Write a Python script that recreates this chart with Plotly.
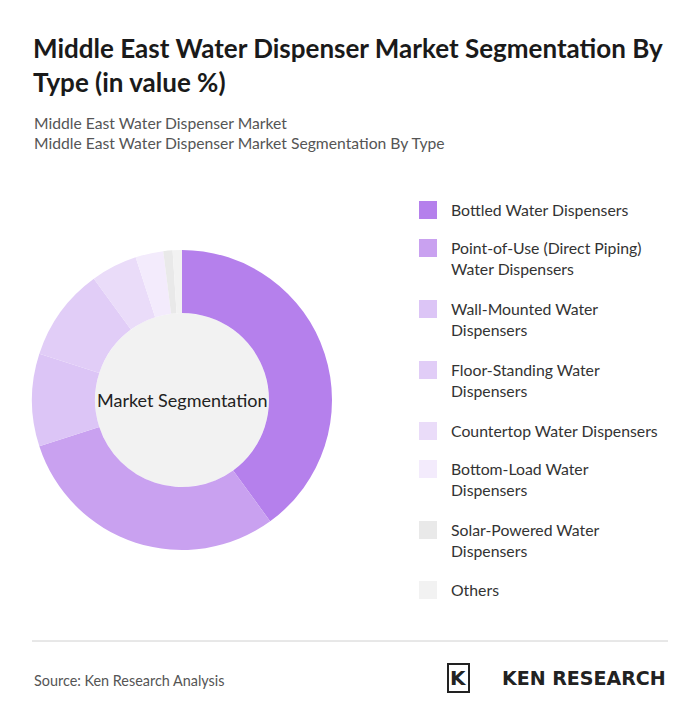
import plotly.graph_objects as go

labels = ["Bottled Water Dispensers", "Point-of-Use (Direct Piping) Water Dispensers",
          "Wall-Mounted Water Dispensers", "Floor-Standing Water Dispensers",
          "Countertop Water Dispensers", "Bottom-Load Water Dispensers",
          "Solar-Powered Water Dispensers", "Others"]
legend_text = ["Bottled Water Dispensers", "Point-of-Use (Direct Piping)<br>Water Dispensers",
               "Wall-Mounted Water<br>Dispensers", "Floor-Standing Water<br>Dispensers",
               "Countertop Water Dispensers", "Bottom-Load Water<br>Dispensers",
               "Solar-Powered Water<br>Dispensers", "Others"]
values = [40, 30, 10, 10, 5, 3, 1, 1]
colors = ["#b580ec", "#c9a1f0", "#dcc5f6", "#e1cdf7", "#eadcf9", "#f3ebfc", "#e9e9e9", "#f2f2f2"]

W, H = 692, 719
OFF = 8
cx, cy, r = 182, 400, 150

def px(x): return (x - OFF) / W
def py(y): return 1 - (y - OFF) / H

fig = go.Figure(go.Pie(
    labels=labels, values=values, sort=False, direction="clockwise", rotation=0,
    hole=0.58, marker=dict(colors=colors, line=dict(width=0)),
    textinfo="none", hoverinfo="label+percent", showlegend=False,
    domain=dict(x=[px(cx - r), px(cx + r)], y=[py(cy + r), py(cy - r)])))

shapes = [dict(type="circle", xref="paper", yref="paper", layer="below",
               x0=px(cx - 87), x1=px(cx + 87), y0=py(cy + 87), y1=py(cy - 87),
               fillcolor="#f2f2f2", line=dict(width=0)),
          dict(type="line", xref="paper", yref="paper", x0=px(32), x1=px(668),
               y0=py(641), y1=py(641), line=dict(color="#d0d0d0", width=1))]
ann = [
    dict(text="<b>Middle East Water Dispenser Market Segmentation By<br>Type (in value %)</b>",
         x=px(31), y=py(30), xanchor="left", yanchor="top", align="left",
         font=dict(size=26, color="#1a1a1a", family="Lato")),
    dict(text="Middle East Water Dispenser Market<br>Middle East Water Dispenser Market Segmentation By Type",
         x=px(32), y=py(112), xanchor="left", yanchor="top", align="left",
         font=dict(size=15.7, color="#555", family="Lato")),
    dict(text="Market Segmentation", x=px(cx), y=py(cy), xanchor="center", yanchor="middle",
         showarrow=False, font=dict(size=18, color="#222", family="Lato")),
    dict(text="Source: Ken Research Analysis", x=px(32), y=py(680), xanchor="left", yanchor="middle",
         font=dict(size=14.4, color="#555", family="Lato")),
    dict(text="<b>K</b>", x=px(458), y=py(678), xanchor="center", yanchor="middle",
         font=dict(size=20, color="#222", family="DejaVu Sans"),
         bordercolor="#222", borderwidth=2, borderpad=1),
    dict(text="<b>KEN RESEARCH</b>", x=px(668), y=py(678), xanchor="right", yanchor="middle",
         font=dict(size=19, color="#222", family="DejaVu Sans")),
]
leg_y = [210, 248, 309, 370, 431, 469, 530, 590]
for t, yy, c in zip(legend_text, leg_y, colors):
    shapes.append(dict(type="rect", xref="paper", yref="paper", x0=px(419), x1=px(437),
                       y0=py(yy + 9), y1=py(yy - 9), fillcolor=c, line=dict(width=0)))
    ann.append(dict(text=t, x=px(449), y=py(yy - 12), xanchor="left", yanchor="top", align="left",
                    font=dict(size=15.8, color="#333", family="Lato")))
for a in ann:
    a.setdefault("showarrow", False)
    a["xref"] = "paper"; a["yref"] = "paper"

fig.update_layout(width=W, height=H, margin=dict(l=0, r=0, t=0, b=0),
                  paper_bgcolor="white", plot_bgcolor="white", shapes=shapes, annotations=ann)
fig.write_html("out.html")
